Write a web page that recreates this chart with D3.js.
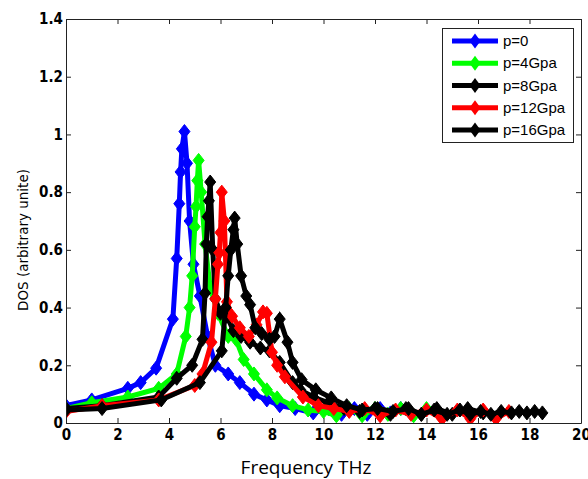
<!DOCTYPE html>
<html lang="en">
<head>
<meta charset="UTF-8">
<title>DOS vs frequency</title>
<style>
  body { margin: 0; background: #fff; }
  svg { display: block; }
  .tick text { font-family: "DejaVu Sans Condensed", "Liberation Sans Narrow", "Liberation Sans", sans-serif; font-weight: bold; font-size: 15px; fill: #000; }
</style>
</head>
<body>
<div id="chart"></div>
<script src="https://d3js.org/d3.v7.min.js"></script>
<script>
// frequencies (THz) and DOS values for each pressure
var p0Freq  = [0, 1.0, 2.4, 2.9, 3.5, 4.15, 4.3, 4.4, 4.45, 4.5, 4.6, 4.7, 4.8, 4.95, 5.2, 5.5, 5.8, 6.3, 6.75, 7.3, 7.8, 8.3, 8.9, 9.6, 10.2, 10.7, 11.2, 11.7, 12.2, 12.6, 13.0];
var p0Dos   = [0.06, 0.08, 0.12, 0.14, 0.19, 0.36, 0.57, 0.76, 0.87, 0.95, 1.01, 0.9, 0.7, 0.55, 0.44, 0.3, 0.2, 0.17, 0.14, 0.1, 0.08, 0.06, 0.05, 0.035, 0.05, 0.03, 0.05, 0.03, 0.05, 0.035, 0.05];

var p4Freq  = [0, 1.0, 2.4, 3.6, 4.3, 4.65, 4.8, 4.9, 5.0, 5.05, 5.1, 5.15, 5.25, 5.4, 5.6, 5.9, 6.3, 6.6, 6.9, 7.3, 7.8, 8.2, 8.8, 9.4, 10.0, 10.5, 11.0, 11.5, 12.0, 12.5, 13.0, 13.5, 14.0, 14.5];
var p4Dos   = [0.05, 0.07, 0.09, 0.12, 0.17, 0.3, 0.4, 0.51, 0.68, 0.75, 0.84, 0.91, 0.8, 0.62, 0.47, 0.38, 0.3, 0.29, 0.22, 0.17, 0.115, 0.087, 0.06, 0.045, 0.04, 0.025, 0.05, 0.025, 0.05, 0.03, 0.05, 0.025, 0.05, 0.03];

var p8Freq  = [0, 1.4, 3.6, 4.3, 4.9, 5.3, 5.4, 5.45, 5.5, 5.55, 5.6, 5.7, 5.8, 6.0, 6.25, 6.5, 6.8, 7.15, 7.55, 7.9, 8.3, 8.8, 9.1, 9.6, 10.2, 10.8, 11.4, 12.0, 12.6, 13.2, 13.8, 14.4, 15.0, 15.6, 16.2];
var p8Dos   = [0.05, 0.06, 0.09, 0.155, 0.2, 0.29, 0.45, 0.62, 0.715, 0.77, 0.835, 0.6, 0.43, 0.38, 0.37, 0.32, 0.3, 0.28, 0.26, 0.25, 0.21, 0.14, 0.115, 0.09, 0.07, 0.05, 0.04, 0.05, 0.03, 0.05, 0.03, 0.05, 0.03, 0.05, 0.035];

var p12Freq = [0, 1.4, 3.6, 5.0, 5.3, 5.65, 5.8, 5.9, 5.95, 6.0, 6.05, 6.15, 6.25, 6.45, 6.75, 7.1, 7.4, 7.65, 7.8, 8.0, 8.2, 8.5, 9.2, 9.8, 10.4, 11.0, 11.6, 12.2, 12.8, 13.4, 14.0, 14.6, 15.2, 15.7, 16.2, 16.7, 17.2];
var p12Dos  = [0.04, 0.06, 0.08, 0.13, 0.17, 0.28, 0.43, 0.55, 0.59, 0.66, 0.8, 0.7, 0.42, 0.37, 0.33, 0.3, 0.34, 0.385, 0.38, 0.245, 0.2, 0.16, 0.09, 0.06, 0.05, 0.04, 0.05, 0.025, 0.045, 0.03, 0.045, 0.015, 0.045, 0.015, 0.045, 0.015, 0.04];

var p16Freq = [0, 1.4, 3.7, 5.2, 6.05, 6.2, 6.3, 6.4, 6.5, 6.55, 6.65, 6.8, 7.0, 7.15, 7.35, 7.6, 7.9, 8.1, 8.3, 8.6, 8.8, 9.15, 9.7, 10.3, 10.9, 11.5, 12.1, 12.7, 13.3, 13.8, 14.3, 14.8, 15.3, 15.7, 16.1, 16.5, 16.9, 17.3, 17.6, 17.9, 18.2, 18.5];
var p16Dos  = [0.045, 0.05, 0.08, 0.14, 0.25, 0.4, 0.51, 0.6, 0.67, 0.71, 0.62, 0.51, 0.44, 0.41, 0.33, 0.31, 0.29, 0.3, 0.36, 0.28, 0.21, 0.15, 0.115, 0.087, 0.06, 0.045, 0.05, 0.04, 0.05, 0.03, 0.045, 0.03, 0.045, 0.03, 0.04, 0.03, 0.04, 0.035, 0.04, 0.035, 0.04, 0.035];

var seriesNames  = ["p=0", "p=4Gpa", "p=8Gpa", "p=12Gpa", "p=16Gpa"];
var seriesColors = ["#0000ff", "#00ff00", "#000000", "#ff0000", "#000000"];
var seriesFreq   = [p0Freq, p4Freq, p8Freq, p12Freq, p16Freq];
var seriesDos    = [p0Dos, p4Dos, p8Dos, p12Dos, p16Dos];

var xTicks = [0, 2, 4, 6, 8, 10, 12, 14, 16, 18, 20];
var yTicks = [0, 0.2, 0.4, 0.6, 0.8, 1, 1.2, 1.4];

var W = 588, H = 479;
var plotL = 66, plotR = 581, plotT = 19, plotB = 423;

var svg = d3.select("#chart").append("svg")
    .attr("width", W)
    .attr("height", H);

var x = d3.scaleLinear().domain([0, 20]).range([plotL, plotR]);
var y = d3.scaleLinear().domain([0, 1.4]).range([plotB, plotT]);

// white plot box
svg.append("rect")
    .attr("x", plotL).attr("y", plotT)
    .attr("width", plotR - plotL).attr("height", plotB - plotT)
    .attr("fill", "#fff");

var series = seriesNames.map(function(name, i) {
  return {
    name: name,
    color: seriesColors[i],
    points: seriesFreq[i].map(function(f, j) { return [f, seriesDos[i][j]]; })
  };
});

var line = d3.line()
    .x(d => x(d[0]))
    .y(d => y(d[1]));

var diamond = "M0,-7L5.5,0L0,7L-5.5,0Z";

svg.append("clipPath").attr("id", "plotclip")
  .append("rect").attr("x", plotL).attr("y", plotT - 8)
  .attr("width", plotR - plotL).attr("height", plotB - plotT + 8);

var plot = svg.append("g").attr("clip-path", "url(#plotclip)");

series.forEach(function(s) {
  var g = plot.append("g");
  g.append("path")
      .attr("d", line(s.points))
      .attr("fill", "none")
      .attr("stroke", s.color)
      .attr("stroke-width", 5)
      .attr("stroke-linejoin", "miter");
  g.selectAll("path.m")
    .data(s.points)
    .enter()
    .append("path")
      .attr("class", "m")
      .attr("d", diamond)
      .attr("transform", d => "translate(" + x(d[0]) + "," + y(d[1]) + ")")
      .attr("fill", s.color)
      .attr("stroke", s.color)
      .attr("stroke-width", 1);
});

// axes with inward ticks, MATLAB style box
svg.append("g")
    .attr("transform", "translate(0," + plotB + ")")
    .call(d3.axisBottom(x).tickValues(xTicks).tickSizeInner(-5).tickSizeOuter(0).tickPadding(6).tickFormat(d3.format("d")));
svg.append("g")
    .attr("transform", "translate(" + plotL + ",0)")
    .call(d3.axisLeft(y).tickValues(yTicks).tickSizeInner(-5).tickSizeOuter(0).tickPadding(3).tickFormat(d => d === 0 || d === 1 ? d3.format("d")(d) : d3.format(".1f")(d)));
svg.append("g")
    .attr("transform", "translate(0," + plotT + ")")
    .call(d3.axisTop(x).tickValues(xTicks).tickSizeInner(-5).tickSizeOuter(0).tickFormat(""));
svg.append("g")
    .attr("transform", "translate(" + plotR + ",0)")
    .call(d3.axisRight(y).tickValues(yTicks).tickSizeInner(-5).tickSizeOuter(0).tickFormat(""));

svg.selectAll(".domain").attr("stroke", "#222");
svg.selectAll(".tick line").attr("stroke", "#222");

// axis labels
svg.append("text")
    .attr("x", 306).attr("y", 474)
    .attr("text-anchor", "middle")
    .style("font-family", "'Open Sans', 'DejaVu Sans', sans-serif")
    .style("font-size", "19px")
    .text("Frequency THz");

svg.append("text")
    .attr("transform", "translate(28,240) rotate(-90)")
    .attr("text-anchor", "middle")
    .style("font-family", "'DejaVu Sans', Verdana, sans-serif")
    .style("font-size", "13.5px")
    .text("DOS (arbitrary unite)");

// legend
var lg = svg.append("g");
lg.append("rect")
    .attr("x", 442.5).attr("y", 28.5)
    .attr("width", 131).attr("height", 114)
    .attr("fill", "#fff")
    .attr("stroke", "#222");

var legendY = d3.scalePoint().domain(seriesNames).range([41, 130]);

series.forEach(function(s) {
  var ly = legendY(s.name);
  lg.append("line")
      .attr("x1", 452).attr("x2", 498)
      .attr("y1", ly).attr("y2", ly)
      .attr("stroke", s.color)
      .attr("stroke-width", 5);
  lg.append("path")
      .attr("d", "M0,-7.5L5.5,0L0,7.5L-5.5,0Z")
      .attr("transform", "translate(475," + ly + ")")
      .attr("fill", s.color);
  lg.append("text")
      .attr("x", 503).attr("y", ly + 5)
      .style("font-family", "'Liberation Sans', Arial, sans-serif")
      .style("font-size", "15px")
      .text(s.name);
});
</script>
</body>
</html>
